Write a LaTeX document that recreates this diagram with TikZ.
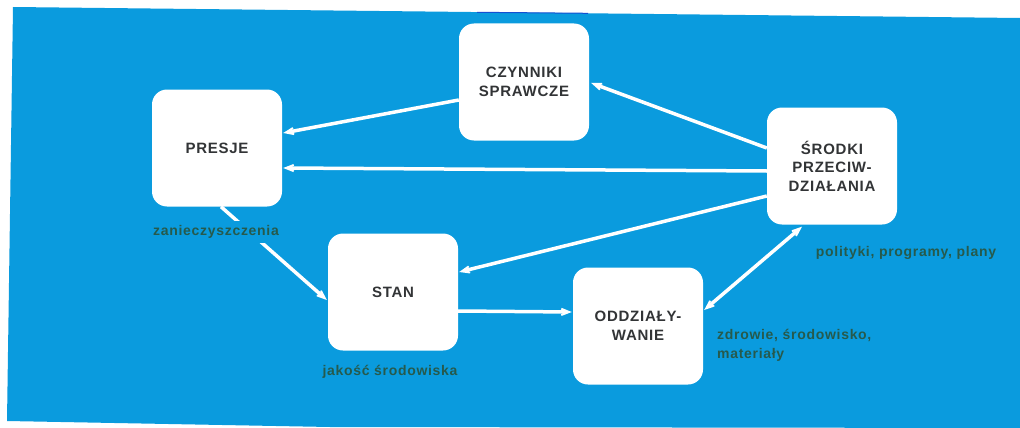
\documentclass[tikz,border=0pt]{standalone}
\usepackage{fontspec}
\setmainfont{Liberation Sans}
\newfontfamily\spacedfont[LetterSpace=5]{Liberation Sans}
\usetikzlibrary{arrows.meta,calc}
\definecolor{bgblue}{RGB}{10,155,222}
\definecolor{linebl}{RGB}{20,80,210}
\definecolor{boxtext}{RGB}{50,52,54}
\definecolor{labtext}{RGB}{38,90,76}
\tikzset{
  box/.style={draw=none,fill=white,rounded corners=15pt,minimum width=130pt,minimum height=117pt,
    align=center,font=\spacedfont\fontsize{15}{18.5}\selectfont\bfseries,text=boxtext,inner sep=2pt},
  lab/.style={font=\spacedfont\fontsize{14}{19}\selectfont\bfseries,text=labtext,inner sep=1pt},
  conn/.style={draw=white,line width=3.5pt,-{Stealth[length=19pt,width=15pt,inset=12pt]}},
  conn2/.style={draw=white,line width=3.5pt,{Stealth[length=19pt,width=15pt,inset=12pt]}-{Stealth[length=19pt,width=15pt,inset=12pt]}}
}
\begin{document}
\begin{tikzpicture}[x=1pt,y=-1pt]
\useasboundingbox (0,0) rectangle (1020,428);
\fill[white] (0,0) rectangle (1020,428);
\fill[bgblue] (13,7) -- (1020,18) -- (1020,428) -- (330,427) -- (7,421) -- cycle;
\coordinate (tl1) at (477,12.3);
\coordinate (tl2) at (588,13.3);
\draw[linebl,line width=1pt] (tl1) -- (tl2);

\node[box] (presje) at (217,148) {PRESJE};
\node[box] (czyn) at (524,82) {CZYNNIKI\\SPRAWCZE};
\node[box] (srodki) at (832,166) {ŚRODKI\\PRZECIW-\\DZIAŁANIA};
\node[box] (stan) at (393,292) {STAN};
\node[box] (oddz) at (638,326) {ODDZIAŁY-\\WANIE};

\draw[conn] ($(srodki.west)+(0,-18)$) -- ($(czyn.east)+(2,1)$);
\draw[conn] ($(czyn.west)+(0,18)$) -- ($(presje.east)+(1,-15)$);
\draw[conn] ($(srodki.west)+(0,5)$) -- ($(presje.east)+(1,20)$);
\draw[conn] ($(presje.south)+(4,0)$) -- ($(stan.west)+(-1,8)$);
\draw[conn] ($(srodki.west)+(0,30)$) -- ($(stan.east)+(1,-20)$);
\draw[conn] ($(stan.east)+(0,19)$) -- ($(oddz.west)+(-1,-14)$);
\draw[conn2] ($(oddz.east)+(1,-16)$) -- ($(srodki.south)+(-30,2)$);

\node[lab,fill=bgblue,inner ysep=4pt] (l1) at (216,232) {zanieczyszczenia};
\node[lab] (l2) at (390,372) {jakość środowiska};
\node[lab] (l3) at (906,253) {polityki, programy, plany};
\node[lab,align=left,anchor=north west] (l4) at (716,328) {zdrowie, środowisko,\\materiały};
\end{tikzpicture}
\end{document}
